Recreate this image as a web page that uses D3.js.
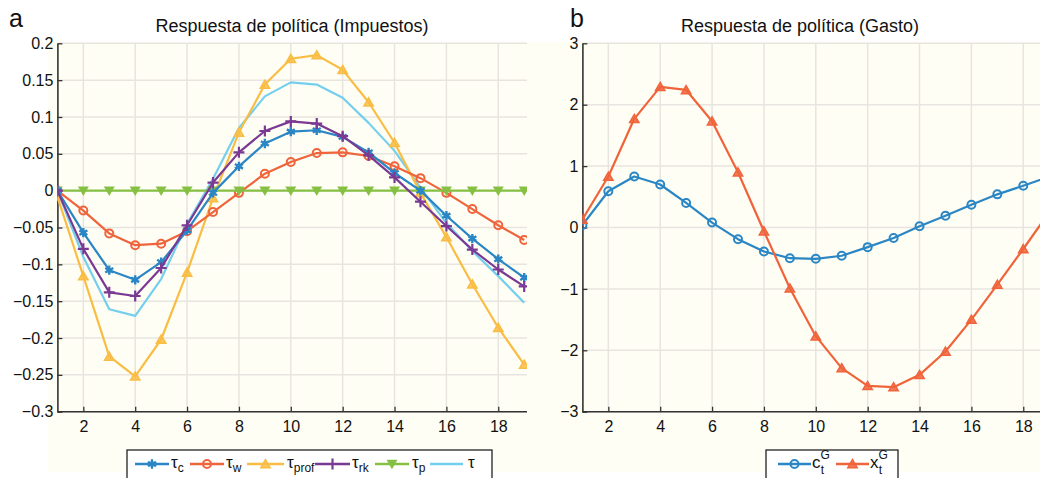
<!DOCTYPE html>
<html><head><meta charset="utf-8">
<script src="https://cdn.jsdelivr.net/npm/d3@7/dist/d3.min.js"></script>
<style>
body{margin:0;background:#fff;}
text{font-family:"Liberation Sans",Arial,sans-serif;fill:#111;}
</style></head>
<body>
<svg id="c" width="1040" height="478"></svg>
<script>
// ---- data ----
const periods = d3.range(1, 20);
const tauC    = [0,-0.057,-0.108,-0.121,-0.097,-0.054,-0.003,0.033,0.064,0.080,0.082,0.073,0.052,0.024,0.000,-0.034,-0.065,-0.093,-0.118];
const tauW    = [0,-0.027,-0.058,-0.074,-0.072,-0.055,-0.029,-0.003,0.023,0.039,0.051,0.052,0.047,0.033,0.017,-0.003,-0.025,-0.047,-0.067];
const tauProf = [-0.008,-0.116,-0.225,-0.252,-0.202,-0.111,-0.010,0.079,0.144,0.179,0.184,0.164,0.120,0.065,-0.003,-0.063,-0.127,-0.186,-0.236];
const tauRk   = [0,-0.079,-0.138,-0.143,-0.105,-0.047,0.011,0.052,0.081,0.094,0.091,0.074,0.048,0.018,-0.015,-0.048,-0.080,-0.107,-0.130];
const tauP    = [0,0,0,0,0,0,0,0,0,0,0,0,0,0,0,0,0,0,0];
const tauAll  = [0,-0.090,-0.161,-0.170,-0.120,-0.045,0.016,0.085,0.128,0.147,0.144,0.126,0.092,0.054,0.004,-0.044,-0.082,-0.116,-0.152];
const cG = [0.04,0.59,0.83,0.70,0.40,0.08,-0.19,-0.39,-0.50,-0.51,-0.46,-0.32,-0.17,0.02,0.19,0.37,0.54,0.68,0.83];
const xG = [0.13,0.83,1.77,2.29,2.24,1.73,0.90,-0.06,-0.99,-1.77,-2.29,-2.58,-2.60,-2.40,-2.02,-1.50,-0.93,-0.35,0.25];
const xTicks = [2,4,6,8,10,12,14,16,18];
const yTicksA = [0.2,0.15,0.1,0.05,0,-0.05,-0.1,-0.15,-0.2,-0.25,-0.3];
const yTicksB = [3,2,1,0,-1,-2,-3];
const titleA = "Respuesta de política (Impuestos)";
const titleB = "Respuesta de política (Gasto)";

const svg = d3.select("#c");
const grid = "#e8e4e0", axisCol = "#333";
// cream background
svg.append("rect").attr("x",48).attr("y",42).attr("width",992).attr("height",430).attr("fill","#fffef4");

function fmt(v){ return v===0 ? "0" : (v<0 ? "\u2212" + d3.format("")(-v) : d3.format("")(v)); }

function panel(opt){
  const x = d3.scaleLinear().domain([1,19]).range(opt.xr);
  const y = d3.scaleLinear().domain(opt.yd).range([411.7,43.3]);
  const g = svg.append("g");
  const cid = "clip"+opt.id;
  svg.append("defs").append("clipPath").attr("id",cid).append("rect")
    .attr("x",opt.xr[0]).attr("y",38).attr("width",opt.clipW).attr("height",380);
  // grid
  g.selectAll(".gx").data(xTicks).join("line").attr("x1",d=>x(d)).attr("x2",d=>x(d))
    .attr("y1",y.range()[0]).attr("y2",y.range()[1]).attr("stroke",grid).attr("stroke-width",1.5)
    .attr("clip-path",`url(#${cid})`);
  g.selectAll(".gy").data(opt.yt).join("line").attr("x1",opt.xr[0]).attr("x2",opt.xr[0]+opt.clipW)
    .attr("y1",d=>y(d)).attr("y2",d=>y(d)).attr("stroke",grid).attr("stroke-width",1.5)
    .attr("clip-path",`url(#${cid})`);
  // axes
  const ax = g.append("g").attr("transform",`translate(0,${y(opt.yd[0])})`)
    .call(d3.axisBottom(x).tickValues(xTicks).tickSizeInner(-5).tickSizeOuter(0).tickPadding(9));
  const ay = g.append("g").attr("transform",`translate(${x(1)},0)`)
    .call(d3.axisLeft(y).tickValues(opt.yt).tickFormat(opt.fmt).tickSizeInner(-5).tickSizeOuter(0).tickPadding(4));
  [ax,ay].forEach(a=>{
    a.select(".domain").attr("stroke",axisCol).attr("stroke-width",1.6);
    a.selectAll(".tick line").attr("stroke",axisCol).attr("stroke-width",1.3);
    a.selectAll("text").attr("font-size",16).attr("font-family","Liberation Sans, Arial, sans-serif").attr("fill","#111");
  });
  ax.select(".domain").attr("d",`M${opt.xr[0]},0H${opt.xr[0]+opt.clipW}`);
  // title + letter
  svg.append("text").attr("x",opt.tx).attr("y",32).attr("text-anchor","middle").attr("font-size",18).text(opt.title);
  svg.append("text").attr("x",opt.lx).attr("y",27).attr("font-size",25).text(opt.letter);
  // series
  const pg = svg.append("g").attr("clip-path",`url(#${cid})`);
  opt.series.forEach(s=>{
    const pts = periods.map((p,i)=>[p,s.values[i]]);
    pg.append("path").datum(pts).attr("fill","none").attr("stroke",s.color).attr("stroke-width",2.2)
      .attr("stroke-linejoin","round")
      .attr("d",d3.line().x(d=>x(d[0])).y(d=>y(d[1])));
    if(s.marker) drawMarkers(pg, pts.map(d=>[x(d[0]),y(d[1])]), s);
  });
  return {x,y};
}

function drawMarker(g, px, py, s){
  const c = s.color;
  if(s.marker==="circle"){
    g.append("circle").attr("cx",px).attr("cy",py).attr("r",4).attr("fill","none").attr("stroke",c).attr("stroke-width",2);
  } else if(s.marker==="star"){
    g.append("path").attr("transform",`translate(${px},${py})`).attr("d",d3.symbol(d3.symbolAsterisk,60)())
      .attr("fill","none").attr("stroke",c).attr("stroke-width",2.4);
    g.append("circle").attr("cx",px).attr("cy",py).attr("r",2.4).attr("fill",c);
  } else if(s.marker==="tri"){
    g.append("path").attr("transform",`translate(${px},${py+1})`).attr("d",d3.symbol(d3.symbolTriangle,38)())
      .attr("fill",c).attr("fill-opacity",0.85).attr("stroke",c).attr("stroke-width",1.5);
  } else if(s.marker==="tridown"){
    g.append("path").attr("transform",`translate(${px},${py-1}) rotate(180)`).attr("d",d3.symbol(d3.symbolTriangle,34)())
      .attr("fill",c).attr("stroke",c).attr("stroke-width",1.2);
  } else if(s.marker==="plus"){
    g.append("path").attr("d",`M${px-5.5},${py}H${px+5.5}M${px},${py-5.5}V${py+5.5}`).attr("stroke",c).attr("stroke-width",2.2);
  }
}
function drawMarkers(g, pts, s){ pts.forEach(p=>drawMarker(g,p[0],p[1],s)); }

const C = {blue:"#2a86c4", red:"#f0643c", yellow:"#f9bd45", purple:"#7a3a93", green:"#86c043", cyan:"#74cfee"};

const seriesA = [
  {name:"c", values:tauC, color:C.blue, marker:"star"},
  {name:"w", values:tauW, color:C.red, marker:"circle"},
  {name:"prof", values:tauProf, color:C.yellow, marker:"tri"},
  {name:"rk", values:tauRk, color:C.purple, marker:"plus"},
  {name:"p", values:tauP, color:C.green, marker:"tridown"},
  {name:"", values:tauAll, color:C.cyan, marker:null}
];
panel({id:"A", xr:[57.4,524.2], clipW:470, yd:[-0.3,0.2], yt:yTicksA, fmt:fmt, title:titleA, tx:292, lx:9, letter:"a",
  series:[seriesA[5],seriesA[2],seriesA[1],seriesA[4],seriesA[0],seriesA[3]]});

const seriesB = [
  {name:"c", values:cG, color:C.blue, marker:"circle"},
  {name:"x", values:xG, color:C.red, marker:"tri"}
];
// right panel overlaps left panel's edge
svg.append("rect").attr("x",527).attr("y",42).attr("width",55).attr("height",430).attr("fill","#fffef4");
svg.append("rect").attr("x",527).attr("y",0).attr("width",55).attr("height",42).attr("fill","#fff");
panel({id:"B", xr:[582.4,1049.2], clipW:470, yd:[-3,3], yt:yTicksB, fmt:fmt, title:titleB, tx:800, lx:570, letter:"b",
  series:seriesB});

// ---- legends ----
function legend(x0, x1, items){
  const g = svg.append("g");
  g.append("rect").attr("x",x0).attr("y",450).attr("width",x1-x0).attr("height",40)
    .attr("fill","#fff").attr("stroke","#222").attr("stroke-width",1.3);
  items.forEach(it=>{
    g.append("line").attr("x1",it.l0).attr("x2",it.l1).attr("y1",464).attr("y2",464)
      .attr("stroke",it.s.color).attr("stroke-width",2.4);
    if(it.s.marker) drawMarker(g,(it.l0+it.l1)/2,464,it.s);
    it.label(g.append("text").attr("x",it.tx).attr("y",468).attr("font-size",17));
  });
}
function tauLabel(sub){ return t=>{ t.append("tspan").text("\u03c4"); if(sub) t.append("tspan").attr("font-size",12).attr("dy",4).text(sub); }; }
legend(127,492,[
  {s:seriesA[0], l0:135, l1:169, tx:171, label:tauLabel("c")},
  {s:seriesA[1], l0:190, l1:224, tx:226, label:tauLabel("w")},
  {s:seriesA[2], l0:247, l1:284, tx:287, label:tauLabel("prof")},
  {s:seriesA[3], l0:315, l1:350, tx:352, label:tauLabel("rk")},
  {s:seriesA[4], l0:375, l1:409, tx:412, label:tauLabel("p")},
  {s:seriesA[5], l0:430, l1:463, tx:468, label:tauLabel("")}
]);
function supSub(ch){ return t=>{
  t.append("tspan").text(ch);
  t.append("tspan").attr("font-size",12).attr("dy",-9).text("G");
  t.append("tspan").attr("font-size",12).attr("dx",-9).attr("dy",15).text("t");
}; }
legend(766,898,[
  {s:seriesB[0], l0:778, l1:811, tx:812, label:supSub("c")},
  {s:seriesB[1], l0:836, l1:869, tx:870, label:supSub("x")}
]);
</script>
</body></html>
